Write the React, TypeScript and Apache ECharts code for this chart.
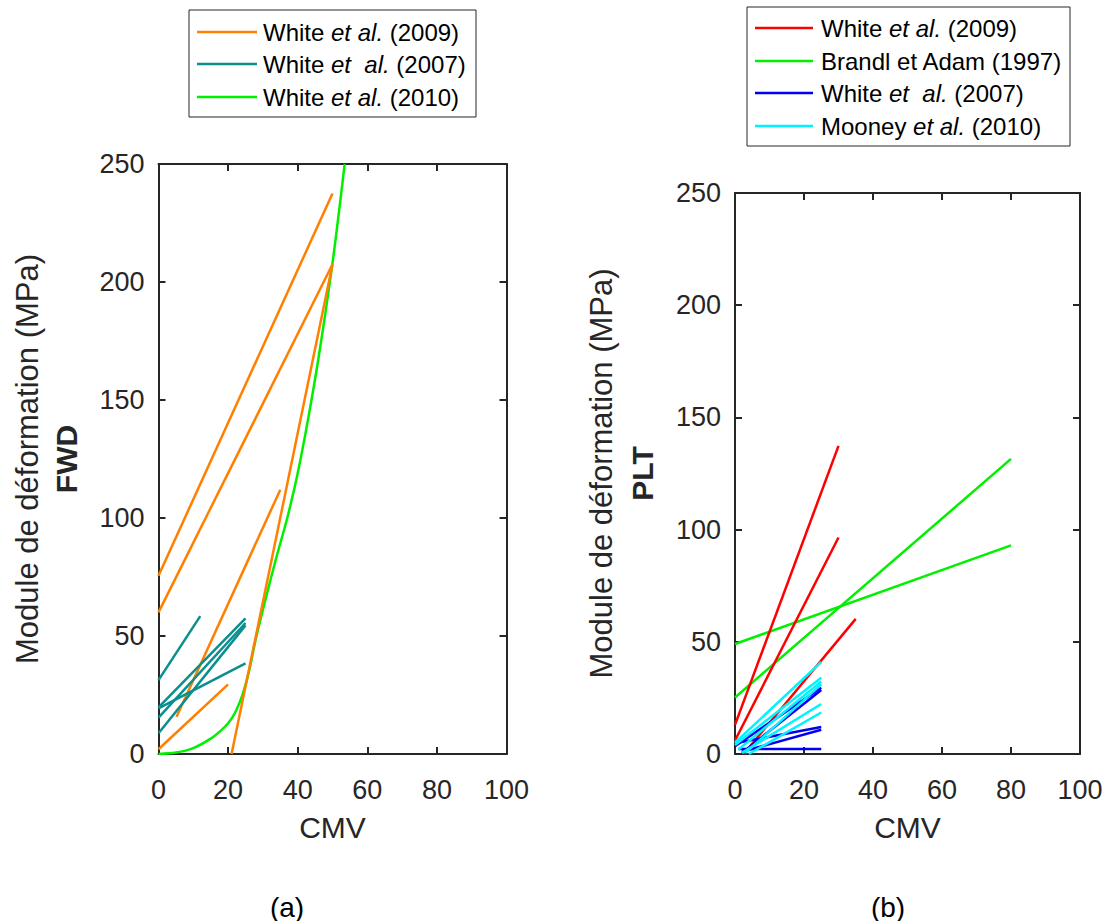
import React, { useEffect, useRef } from "react";
import * as echarts from "echarts";

type Seg = number[][];

// ---------- Panel (a) FWD ----------
const fwdWhite2009: Seg[] = [
  [[0, 75.5], [50, 237.5]],
  [[0, 60], [50, 207.5]],
  [[5.2, 15.8], [35, 112]],
  [[0, 2], [20, 29.5]],
  [[21, 0], [50, 207.5]],
];
const fwdWhite2007: Seg[] = [
  [[0, 31.3], [12, 58.4]],
  [[0, 19.8], [25, 57.5]],
  [[0, 19.3], [25, 38.4]],
  [[0, 15.4], [25, 55.5]],
  [[0, 8.8], [25, 54.5]],
];
const fwdWhite2010: Seg[] = [
  [[0, 0], [5, 0.6], [10, 2.5], [15, 6.5], [18, 10], [20, 13], [22, 17.5], [24, 24.5], [26, 35], [28, 49], [31, 67], [34, 84], [37, 100], [40, 119], [43, 142], [46, 168], [50, 208], [53.5, 250]],
];

// ---------- Panel (b) PLT ----------
const pltWhite2009: Seg[] = [
  [[0, 13], [30, 137.3]],
  [[0, 6], [30, 96.5]],
  [[2.5, 0], [35, 60.2]],
];
const pltBrandl1997: Seg[] = [
  [[0, 49], [80, 93]],
  [[0, 25.2], [80, 131.5]],
];
const pltWhite2007: Seg[] = [
  [[1, 2.2], [25, 2.2]],
  [[0, 4.8], [25, 12]],
  [[2, 1], [25, 10.8]],
  [[0, 3.5], [25, 29.5]],
  [[2, 0.5], [25, 28.5]],
];
const pltMooney2010: Seg[] = [
  [[0, 5], [25, 41]],
  [[0, 4], [25, 34]],
  [[1, 2], [25, 32.3]],
  [[3, 0.5], [25, 31]],
  [[2, 0.5], [25, 22.3]],
  [[4, 0], [25, 18.5]],
];

const X_MIN = 0, X_MAX = 100, X_STEP = 20;
const Y_MIN = 0, Y_MAX = 250, Y_STEP = 50;

const AX = "#262626";
const FONT = "Liberation Sans";

export default function App() {
  const ref = useRef<HTMLDivElement>(null);
  useEffect(() => {
    if (!ref.current) return;
    const chart = echarts.init(ref.current, undefined, { renderer: "svg" });

    const grids = [
      { left: 158.5, top: 164, width: 348, height: 590 },
      { left: 735, top: 193, width: 345, height: 561 },
    ];

    const mkX = (gi: number, main: boolean) => ({
      type: "value",
      gridIndex: gi,
      min: X_MIN,
      max: X_MAX,
      interval: X_STEP,
      position: main ? "bottom" : "top",
      name: main ? "CMV" : "",
      nameLocation: "middle",
      nameGap: 58,
      nameTextStyle: { fontSize: 30, color: AX, fontFamily: FONT },
      axisLine: { show: true, onZero: false, lineStyle: { color: AX, width: 2 } },
      axisTick: { show: true, inside: true, length: 7, lineStyle: { color: AX, width: 2 } },
      axisLabel: { show: main, fontSize: 27, color: AX, fontFamily: FONT, margin: 22 },
      splitLine: { show: false },
    });
    const mkY = (gi: number, main: boolean) => ({
      type: "value",
      gridIndex: gi,
      min: Y_MIN,
      max: Y_MAX,
      interval: Y_STEP,
      position: main ? "left" : "right",
      axisLine: { show: true, onZero: false, lineStyle: { color: AX, width: 2 } },
      axisTick: { show: true, inside: true, length: 7, lineStyle: { color: AX, width: 2 } },
      axisLabel: { show: main, fontSize: 27, color: AX, fontFamily: FONT, margin: 14 },
      splitLine: { show: false },
    });

    const series: any[] = [];
    const add = (segs: Seg[], name: string, color: string, xi: number, yi: number, smooth = false) => {
      segs.forEach((s) => {
        series.push({
          type: "line",
          name,
          data: s,
          xAxisIndex: xi,
          yAxisIndex: yi,
          showSymbol: false,
          symbol: "none",
          smooth: smooth ? 0.3 : false,
          clip: true,
          lineStyle: { color, width: 2.5 },
          itemStyle: { color },
        });
      });
    };
    const C = {
      orange: "#FF8000",
      teal: "#0A8E8E",
      lime: "#00F000",
      red: "#FF0000",
      green: "#00F000",
      blue: "#0000F0",
      cyan: "#00F4FF",
    };
    add(fwdWhite2010, "White et al. (2010)", C.lime, 0, 0, true);
    add(fwdWhite2009, "White et al. (2009)", C.orange, 0, 0);
    add(fwdWhite2007, "White et al. (2007)", C.teal, 0, 0);

    add(pltBrandl1997, "Brandl et Adam (1997)", C.green, 2, 2);
    add(pltWhite2009, "White et al. (2009)", C.red, 2, 2);
    add(pltWhite2007, "White et al. (2007)", C.blue, 2, 2);
    add(pltMooney2010, "Mooney et al. (2010)", C.cyan, 2, 2);

    const LF = 24;
    const legendText = (x: number, y: number, text: string) => ({
      type: "text",
      x,
      y,
      style: {
        text,
        fontSize: LF,
        fontFamily: FONT,
        fill: "#000",
        align: "left",
        verticalAlign: "middle",
        rich: {
          i: { fontStyle: "italic", fontSize: LF, fontFamily: FONT, fill: "#000" },
        },
      },
    });
    const legendLine = (x1: number, x2: number, y: number, color: string) => ({
      type: "line",
      shape: { x1, y1: y, x2, y2: y },
      style: { stroke: color, lineWidth: 2.5 },
    });
    const yName = (x: number, y: number, text: string, bold: boolean, size: number) => ({
      type: "text",
      x,
      y,
      rotation: Math.PI / 2,
      style: {
        text,
        fontSize: size,
        fontWeight: bold ? "bold" : "normal",
        fontFamily: FONT,
        fill: AX,
        align: "center",
        verticalAlign: "middle",
      },
    });
    const caption = (x: number, y: number, text: string) => ({
      type: "text",
      x,
      y,
      style: { text, fontSize: 28, fontFamily: FONT, fill: "#000", align: "center", verticalAlign: "middle" },
    });

    const graphic: any[] = [
      // legend (a)
      { type: "rect", shape: { x: 189, y: 10, width: 287, height: 107 }, style: { fill: "#fff", stroke: AX, lineWidth: 1 } },
      legendLine(197, 257, 32, C.orange),
      legendText(263, 32, "White {i|et al.} (2009)"),
      legendLine(197, 257, 64, C.teal),
      legendText(263, 64, "White {i|et  al.} (2007)"),
      legendLine(197, 257, 97, C.lime),
      legendText(263, 97, "White {i|et al.} (2010)"),
      // legend (b)
      { type: "rect", shape: { x: 747, y: 7, width: 323, height: 139 }, style: { fill: "#fff", stroke: AX, lineWidth: 1 } },
      legendLine(755, 813, 28, C.red),
      legendText(821, 28, "White {i|et al.} (2009)"),
      legendLine(755, 813, 61, C.green),
      legendText(821, 61, "Brandl et Adam (1997)"),
      legendLine(755, 813, 93, C.blue),
      legendText(821, 93, "White {i|et  al.} (2007)"),
      legendLine(755, 813, 126, C.cyan),
      legendText(821, 126, "Mooney {i|et al.} (2010)"),
      // y names
      yName(27, 459, "Module de déformation (MPa)", false, 31),
      yName(66, 459, "FWD", true, 30),
      yName(601, 473.5, "Module de déformation (MPa)", false, 31),
      yName(642, 473.5, "PLT", true, 30),
      caption(287, 907, "(a)"),
      caption(888, 907, "(b)"),
    ];

    chart.setOption({
      animation: false,
      backgroundColor: "#fff",
      grid: grids,
      xAxis: [mkX(0, true), mkX(0, false), mkX(1, true), mkX(1, false)],
      yAxis: [mkY(0, true), mkY(0, false), mkY(1, true), mkY(1, false)],
      series,
      graphic,
    });
    return () => chart.dispose();
  }, []);

  return (
    <div
      ref={ref}
      style={{ position: "fixed", left: 0, top: 0, width: 1110, height: 921, background: "#fff" }}
    />
  );
}
